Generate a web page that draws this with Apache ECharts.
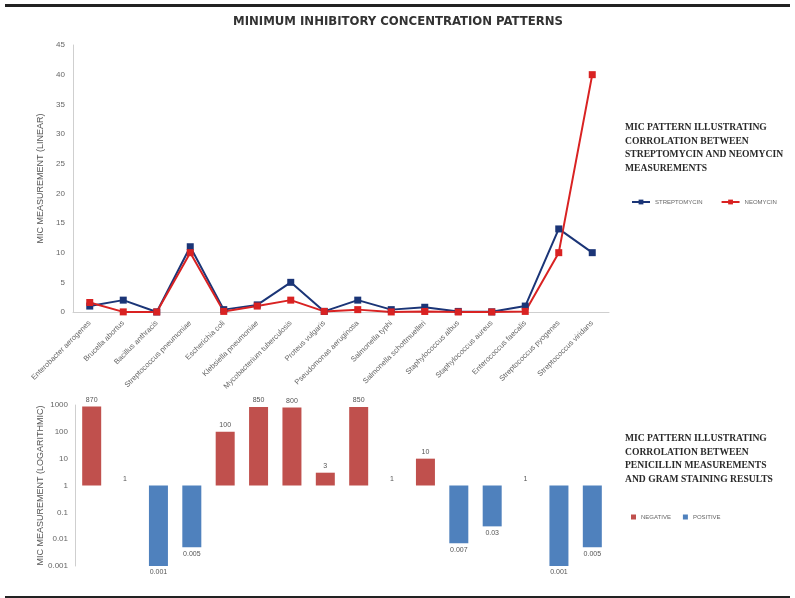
<!DOCTYPE html>
<html>
<head>
<meta charset="utf-8">
<script src="https://cdn.jsdelivr.net/npm/echarts@6/dist/echarts.min.js"></script>
<style>html,body{margin:0;padding:0;background:#fff}#c{width:795px;height:598px}</style>
</head>
<body>
<div id="c"></div>
<script>
const categories = ["Enterobacter aerogenes","Brucella abortus","Bacillus anthracis","Streptococcus pneumoniae","Escherichia coli","Klebsiella pneumoniae","Mycobacterium tuberculosis","Proteus vulgaris","Pseudomonas aeruginosa","Salmonella typhi","Salmonella schottmuelleri","Staphylococcus albus","Staphylococcus aureus","Enterococcus faecalis","Streptococcus pyogenes","Streptococcus viridans"];
const streptomycin = [1, 2, 0.01, 11, 0.4, 1.2, 5, 0.1, 2, 0.4, 0.8, 0.1, 0.03, 1, 14, 10];
const neomycin = [1.6, 0.02, 0.007, 10, 0.1, 1, 2, 0.1, 0.4, 0.008, 0.09, 0.001, 0.001, 0.1, 10, 40];
const penicillin = [870, 1, 0.001, 0.005, 100, 850, 800, 3, 850, 1, 10, 0.007, 0.03, 1, 0.001, 0.005];
const gram = ["negative","negative","positive","positive","negative","negative","negative","negative","negative","negative","negative","positive","positive","positive","positive","positive"];
const linearTicks = [0,5,10,15,20,25,30,35,40,45];
const logTickLabels = {"-3":"0.001","-2":"0.01","-1":"0.1","0":"1","1":"10","2":"100","3":"1000"};

const RED_BAR = '#C0504D', BLUE_BAR = '#4F81BD';
const NAVY = '#1B3577', RED_LINE = '#D92222';

function barData(kind) {
  return penicillin.map((v, i) => {
    if (gram[i] !== kind) return '-';
    const lv = Math.log10(v);
    return { value: lv, label: { position: v >= 1 ? 'top' : 'bottom' } };
  });
}
const labelFmt = p => String(penicillin[p.dataIndex]);

const chart = echarts.init(document.getElementById('c'));
chart.setOption({
  animation: false,
  backgroundColor: '#fff',
  title: {
    text: 'MINIMUM INHIBITORY CONCENTRATION PATTERNS',
    left: 393, top: 10, textAlign: 'center',
    textStyle: { fontFamily: 'DejaVu Sans Condensed', fontSize: 13, fontWeight: 'bold', color: '#333' }
  },
  legend: [
    {
      data: ['STREPTOMYCIN', 'NEOMYCIN'],
      left: 626, top: 194, itemWidth: 18, itemHeight: 6, itemGap: 18,
      textStyle: { fontSize: 6, color: '#666', fontFamily: 'Liberation Sans' }
    },
    {
      data: ['NEGATIVE', 'POSITIVE'],
      left: 626, top: 509, itemWidth: 5, itemHeight: 5, itemGap: 12, icon: 'rect',
      textStyle: { fontSize: 6, color: '#666', fontFamily: 'Liberation Sans' }
    }
  ],
  grid: [
    { left: 73, top: 45, width: 536, height: 267 },
    { left: 75, top: 405, width: 534, height: 161 }
  ],
  xAxis: [
    {
      gridIndex: 0, type: 'category', data: categories, boundaryGap: true,
      axisLine: { lineStyle: { color: '#cfcfcf', width: 1 } },
      axisTick: { show: false },
      axisLabel: { rotate: 45, fontSize: 7.5, color: '#666', margin: 10, interval: 0, fontFamily: 'Liberation Sans' }
    },
    {
      gridIndex: 1, type: 'category', data: categories, boundaryGap: true,
      axisLine: { show: false }, axisTick: { show: false }, axisLabel: { show: false }
    }
  ],
  yAxis: [
    {
      gridIndex: 0, type: 'value', min: 0, max: 45, interval: 5,
      name: 'MIC MEASUREMENT (LINEAR)', nameLocation: 'middle', nameGap: 28, nameRotate: 90, nameMoveOverlap: false,
      nameTextStyle: { fontSize: 9, color: '#555', fontFamily: 'Liberation Sans' },
      axisLine: { show: true, lineStyle: { color: '#cfcfcf' } },
      axisTick: { show: false }, splitLine: { show: false },
      axisLabel: { fontSize: 8, color: '#666', margin: 8, fontFamily: 'Liberation Sans',
        formatter: v => linearTicks.includes(v) ? String(v) : '' }
    },
    {
      gridIndex: 1, type: 'value', min: -3, max: 3, interval: 1,
      name: 'MIC MEASUREMENT (LOGARITHMIC)', nameLocation: 'middle', nameGap: 30, nameRotate: 90, nameMoveOverlap: false,
      nameTextStyle: { fontSize: 9, color: '#555', fontFamily: 'Liberation Sans' },
      axisLine: { show: true, lineStyle: { color: '#cfcfcf' } },
      axisTick: { show: false }, splitLine: { show: false },
      axisLabel: { fontSize: 8, color: '#666', margin: 7, fontFamily: 'Liberation Sans',
        formatter: v => logTickLabels[String(v)] || '' }
    }
  ],
  series: [
    {
      name: 'STREPTOMYCIN', type: 'line', xAxisIndex: 0, yAxisIndex: 0, data: streptomycin,
      color: NAVY, symbol: 'rect', symbolSize: 7, showAllSymbol: true,
      lineStyle: { width: 2, color: NAVY }, itemStyle: { color: NAVY }
    },
    {
      name: 'NEOMYCIN', type: 'line', xAxisIndex: 0, yAxisIndex: 0, data: neomycin,
      color: RED_LINE, symbol: 'rect', symbolSize: 7, showAllSymbol: true,
      lineStyle: { width: 2, color: RED_LINE }, itemStyle: { color: RED_LINE }
    },
    {
      name: 'NEGATIVE', type: 'bar', xAxisIndex: 1, yAxisIndex: 1, data: barData('negative'),
      color: RED_BAR, barWidth: 19, barGap: '-100%', itemStyle: { color: RED_BAR },
      label: { show: true, fontSize: 7, color: '#555', distance: 3, formatter: labelFmt, fontFamily: 'Liberation Sans' }
    },
    {
      name: 'POSITIVE', type: 'bar', xAxisIndex: 1, yAxisIndex: 1, data: barData('positive'),
      color: BLUE_BAR, barWidth: 19, barGap: '-100%', itemStyle: { color: BLUE_BAR },
      label: { show: true, fontSize: 7, color: '#555', distance: 3, formatter: labelFmt, fontFamily: 'Liberation Sans' }
    }
  ],
  graphic: [
    { type: 'rect', shape: { x: 5, y: 4, width: 785, height: 3 }, style: { fill: '#222' } },
    { type: 'rect', shape: { x: 5, y: 596, width: 785, height: 2 }, style: { fill: '#222' } },
    { type: 'text', left: 625, top: 121,
      style: { text: 'MIC PATTERN ILLUSTRATING\nCORROLATION BETWEEN\nSTREPTOMYCIN AND NEOMYCIN\nMEASUREMENTS',
        fontFamily: 'Liberation Serif', fontWeight: 'bold', fontSize: 9.6, lineHeight: 13.6, fill: '#2a2a2a' } },
    { type: 'text', left: 625, top: 432,
      style: { text: 'MIC PATTERN ILLUSTRATING\nCORROLATION BETWEEN\nPENICILLIN MEASUREMENTS\nAND GRAM STAINING RESULTS',
        fontFamily: 'Liberation Serif', fontWeight: 'bold', fontSize: 9.6, lineHeight: 13.6, fill: '#2a2a2a' } }
  ]
});
</script>
</body>
</html>
